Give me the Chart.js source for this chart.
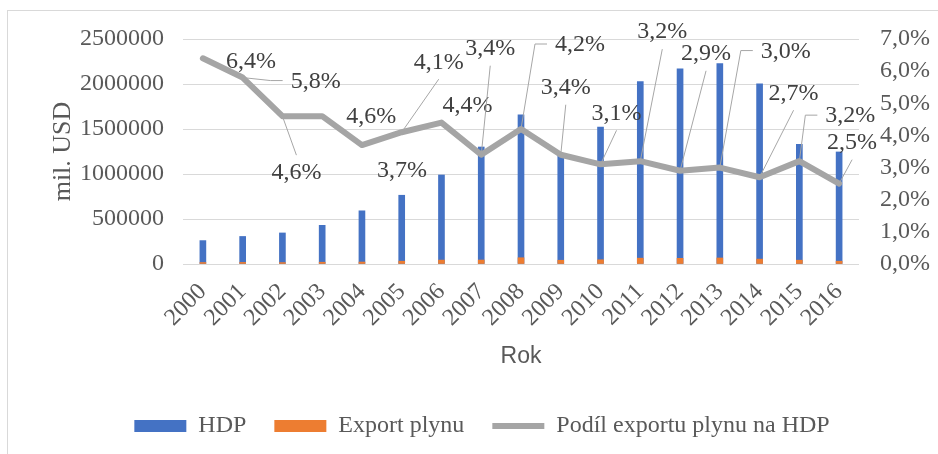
<!DOCTYPE html>
<html>
<head>
<meta charset="utf-8">
<script src="https://cdn.jsdelivr.net/npm/chart.js@4.4.0/dist/chart.umd.min.js"></script>
<style>
  html, body { margin: 0; padding: 0; background: #fff; }
  #wrap { position: relative; width: 938px; height: 454px; overflow: hidden; }
  #frame { position: absolute; left: 7px; top: 10px; width: 960px; height: 480px; border: 1px solid #d9d9d9; }
  #myChart { position: absolute; left: 0; top: 0; }
</style>
</head>
<body>
<div id="wrap">
  <div id="frame"></div>
  <canvas id="myChart" width="938" height="454"></canvas>
</div>
<script>
// years on the x axis
const years = ['2000', '2001', '2002', '2003', '2004', '2005', '2006', '2007', '2008',
               '2009', '2010', '2011', '2012', '2013', '2014', '2015', '2016'];

// HDP, mil. USD
const hdp = [260000, 306000, 345000, 430000, 591000, 764000, 989000, 1300000, 1658000,
             1225000, 1520000, 2028000, 2168000, 2228000, 2002000, 1330000, 1245000];

// Export plynu, mil. USD
const exportPlynu = [16600, 17700, 15900, 19800, 21900, 31300, 43500, 44200, 69600,
                     41700, 47100, 64900, 62900, 66800, 54100, 42600, 31100];

// Podíl exportu plynu na HDP, %
const podil = [6.4, 5.8, 4.6, 4.6, 3.7, 4.1, 4.4, 3.4, 4.2, 3.4, 3.1, 3.2, 2.9, 3.0, 2.7, 3.2, 2.5];

// label placement relative to the line point (px), and leader style
const labelOffsets = [[48, 2], [73, 3], [14, 56], [49, 0], [40, 25], [37, -71], [26, -18],
                      [9, -107], [59, -85], [5, -68], [16, -52], [22, -130], [26, -118],
                      [66, -117], [34, -85], [51, -46], [13, -42]];
const leaderType = ['', 'side', 'top', '', '', 'bottom', '', 'bottom', 'side', 'bottom',
                    'bottom', 'bottom', 'bottom', 'side', 'bottom', 'side', 'bottom'];

const serif = "'Liberation Serif', 'Times New Roman', serif";
const textGray = '#595959';

function fmtPct(v) {
    return v.toFixed(1).replace('.', ',') + '%';
}

// Excel-like data labels with leader lines
const podilLabels = {
    id: 'podilLabels',
    afterDatasetsDraw(chart) {
        const meta = chart.getDatasetMeta(2);
        const ctx = chart.ctx;
        ctx.save();
        ctx.font = '24px ' + serif;
        ctx.textAlign = 'center';
        ctx.textBaseline = 'middle';
        meta.data.forEach((pt, i) => {
            const text = fmtPct(podil[i]);
            const lx = pt.x + labelOffsets[i][0];
            const ly = pt.y + labelOffsets[i][1];
            const w = ctx.measureText(text).width;
            const t = leaderType[i];
            ctx.strokeStyle = '#a6a6a6';
            ctx.lineWidth = 1;
            ctx.beginPath();
            if (t === 'bottom') {
                ctx.moveTo(pt.x, pt.y);
                ctx.lineTo(lx, ly + 18);
            } else if (t === 'top') {
                ctx.moveTo(pt.x, pt.y);
                ctx.lineTo(lx, ly - 17);
            } else if (t === 'side') {
                const left = lx - w / 2;
                ctx.moveTo(pt.x, pt.y);
                ctx.lineTo(left - 20, ly);
                ctx.lineTo(left - 8, ly);
            }
            ctx.stroke();
            ctx.fillStyle = '#404040';
            ctx.fillText(text, lx, ly + 1);
        });
        ctx.restore();
    }
};

const ctx = document.getElementById('myChart');
const myChart = new Chart(ctx, {
    type: 'bar',
    data: {
        labels: years,
        datasets: [{
            label: 'HDP',
            data: hdp,
            backgroundColor: '#4472c4',
            barThickness: 6,
            grouped: false,
            order: 2,
            yAxisID: 'y'
        }, {
            label: 'Export plynu',
            data: exportPlynu,
            backgroundColor: '#ed7d31',
            barThickness: 6,
            grouped: false,
            order: 1,
            yAxisID: 'y'
        }, {
            type: 'line',
            label: 'Podíl exportu plynu na HDP',
            data: podil,
            borderColor: '#a5a5a5',
            backgroundColor: '#a5a5a5',
            borderWidth: 6,
            borderCapStyle: 'round',
            borderJoinStyle: 'round',
            pointRadius: 0,
            tension: 0,
            order: 0,
            yAxisID: 'y1'
        }]
    },
    plugins: [podilLabels],
    options: {
        responsive: false,
        animation: false,
        layout: { padding: { top: 39, left: 26, right: 0, bottom: 6 } },
        plugins: {
            tooltip: { enabled: false },
            legend: {
                position: 'bottom',
                labels: {
                    usePointStyle: true,
                    pointStyleWidth: 52,
                    boxHeight: 12,
                    padding: 28,
                    color: textGray,
                    font: { family: serif, size: 24 },
                    sort: (a, b) => a.datasetIndex - b.datasetIndex,
                    generateLabels(chart) {
                        const items = Chart.defaults.plugins.legend.labels.generateLabels(chart);
                        items.forEach(it => {
                            it.pointStyle = it.datasetIndex === 2 ? 'line' : 'rect';
                        });
                        return items;
                    }
                }
            }
        },
        scales: {
            x: {
                grid: { display: false, drawTicks: false },
                border: { display: false },
                ticks: {
                    color: textGray,
                    font: { family: serif, size: 24 },
                    minRotation: 45,
                    maxRotation: 45,
                    padding: 14,
                    autoSkip: false
                },
                title: {
                    display: true,
                    text: 'Rok',
                    color: textGray,
                    font: { family: "'Liberation Sans', Arial, sans-serif", size: 23 },
                    padding: { top: 0, bottom: 16 }
                },
                afterFit(scale) { scale.height = 122; }
            },
            y: {
                position: 'left',
                min: 0,
                max: 2500000,
                grid: { color: '#d9d9d9', lineWidth: 1, drawTicks: false },
                border: { display: false },
                ticks: {
                    stepSize: 500000,
                    color: textGray,
                    font: { family: serif, size: 24 },
                    padding: 19,
                    callback: v => String(v)
                },
                title: {
                    display: true,
                    text: 'mil. USD',
                    color: textGray,
                    font: { family: serif, size: 26 },
                    padding: { top: 22, bottom: 0 }
                },
                afterFit(scale) { scale.width = 157; }
            },
            y1: {
                position: 'right',
                min: 0,
                max: 7,
                grid: { display: false, drawTicks: false },
                border: { display: false },
                ticks: {
                    stepSize: 1,
                    color: textGray,
                    font: { family: serif, size: 24 },
                    padding: 21,
                    callback: v => fmtPct(v)
                },
                afterFit(scale) { scale.width = 79; }
            }
        }
    }
});
</script>
</body>
</html>
